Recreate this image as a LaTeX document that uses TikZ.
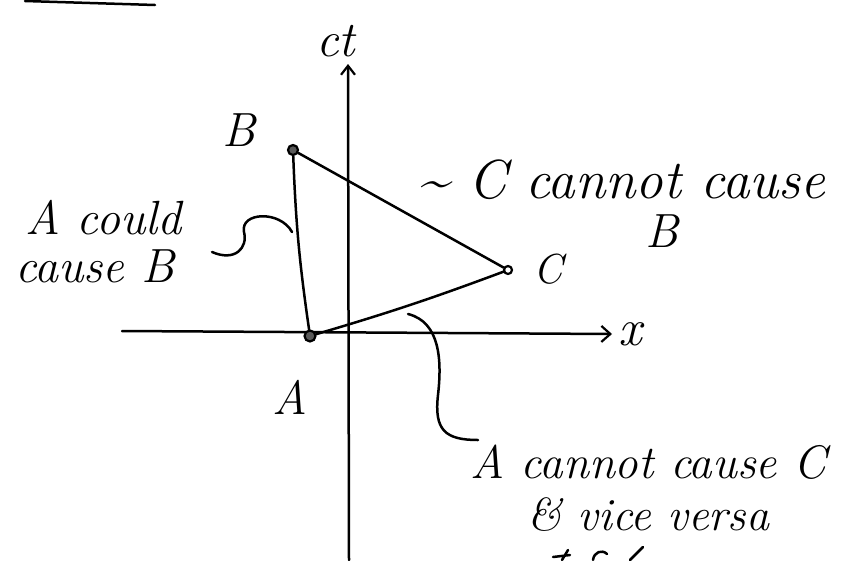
\documentclass[tikz,border=0pt]{standalone}
\usepackage{fontspec}
\usetikzlibrary{arrows.meta}
\newcommand{\hwsize}[1]{\fontsize{#1}{#1}\selectfont\itshape}
\begin{document}
\begin{tikzpicture}[x=1pt,y=-1pt,
  ink/.style={line width=2.5pt,line cap=round,line join=round},
  hw/.style={inner sep=0pt,anchor=base west,font=\hwsize{#1}},
  evfill/.style={circle,draw,line width=2.2pt,inner sep=0pt,minimum size=11pt,fill=black!65},
  evopen/.style={circle,draw,line width=2.2pt,inner sep=0pt,minimum size=8pt,fill=white},
  tipx/.style={-{Straight Barb[length=9pt,width=16pt,line width=2.2pt]}},
  tipy/.style={-{Straight Barb[length=9pt,width=14pt,line width=2.2pt]}},
]
\useasboundingbox (0,0) rectangle (849,560);
% top-left fragment of an underline
\draw[ink] (25,1) -- (155,5);
% axes
\coordinate (ybot) at (349,560);
\coordinate (ytop) at (348,64);
\draw[ink,tipy] (ybot) -- (ytop);
\coordinate (xl) at (122,331);
\coordinate (xr) at (612,334);
\draw[ink,tipx] (xl) -- (xr);
\node[hw=50] (ct) at (316,56) {ct};
\node[hw=52] (xlab) at (618,345) {x};
% events
\node[evfill] (A) at (310,336) {};
\node[evfill,minimum size=10pt] (B) at (293,150) {};
\node[evopen] (C) at (508,270) {};
\node[hw=48] (lA) at (272,414) {A};
\node[hw=48] (lB) at (222,146) {B};
\node[hw=42] (lC) at (533,283) {C};
% triangle
\draw[ink] (A) to[bend left=3] (B);
\draw[ink] (B) -- (C);
\draw[ink] (A) to[bend right=2] (C);
% A could cause B
\node[hw=48] (tAB1) at (25,234) {A could};
\node[hw=48] (tAB2) at (15,282) {cause B};
\coordinate (bAB1) at (212,252);
\coordinate (bAB2) at (292,232);
\draw[ink] (bAB1) .. controls (235,262) and (248,248) .. (244,232)
  .. controls (240,212) and (280,210) .. (bAB2);
% C cannot cause B
\node[hw=55] (tCB) at (418,198) {\textasciitilde\ C cannot cause};
\node[hw=48] (tCB2) at (645,247) {B};
% A cannot cause C
\coordinate (bAC1) at (408,314);
\coordinate (bAC2) at (478,440);
\draw[ink] (bAC1) .. controls (440,322) and (442,360) .. (438,395)
  .. controls (434,430) and (445,440) .. (bAC2);
\node[hw=47] (tAC) at (470,478) {A cannot cause C};
\node[hw=46] (tVV) at (527,530) {\& vice versa};
% clipped fragments at the bottom edge
\draw[ink] (553,557) -- (570,555) (562,560) -- (568,550);
\draw[ink] (593,560) .. controls (594,552) and (602,549) .. (607,554);
\draw[ink] (630,560) -- (643,547);
\end{tikzpicture}
\end{document}
